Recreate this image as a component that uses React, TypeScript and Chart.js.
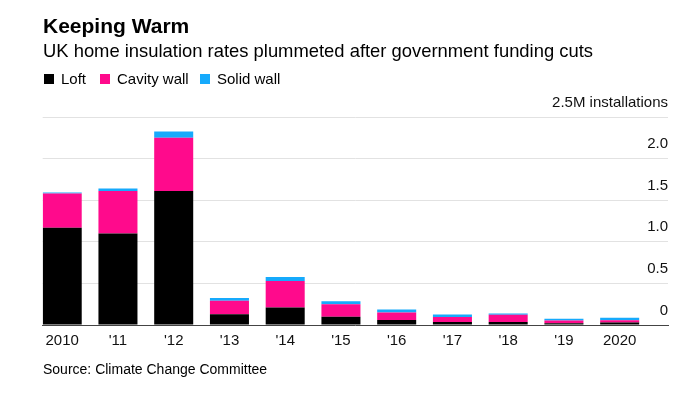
import React, { useEffect, useRef } from 'react';
import { Chart, registerables } from 'chart.js';

Chart.register(...registerables);

const years = ['2010', "'11", "'12", "'13", "'14", "'15", "'16", "'17", "'18", "'19", '2020'];
const loft = [1.17, 1.1, 1.61, 0.13, 0.21, 0.1, 0.06, 0.035, 0.035, 0.022, 0.03];
const cavity = [0.41, 0.51, 0.64, 0.16, 0.32, 0.15, 0.09, 0.06, 0.088, 0.032, 0.028];
const solid = [0.012, 0.032, 0.077, 0.036, 0.048, 0.036, 0.036, 0.032, 0.015, 0.02, 0.028];
const yTicks = [0, 0.5, 1, 1.5, 2, 2.5];
const yTickLabels = ['0', '0.5', '1.0', '1.5', '2.0', '2.5M installations'];

const seriesNames = ['Loft', 'Cavity wall', 'Solid wall'];
const seriesColors = ['#000000', '#ff0a8c', '#16aafc'];

const FONT = "'Liberation Sans', Arial, sans-serif";

export default function App() {
  const canvasRef = useRef<HTMLCanvasElement | null>(null);

  useEffect(() => {
    const canvas = canvasRef.current;
    if (!canvas) return;
    Chart.defaults.font.family = FONT;
    const seriesData = [loft, cavity, solid];
    const chart = new Chart(canvas, {
      type: 'bar',
      data: {
        datasets: seriesData.map((arr, k) => ({
          label: seriesNames[k],
          data: arr.map((v, i) => ({ x: i, y: v })),
          backgroundColor: seriesColors[k],
          borderWidth: 0,
          categoryPercentage: 0.7,
          barPercentage: 1.0,
        })),
      },
      options: {
        animation: false,
        responsive: false,
        events: [],
        layout: { padding: { top: 117, right: 32, bottom: 39, left: 42.7 } },
        plugins: {
          legend: { display: false },
          tooltip: { enabled: false },
          title: { display: false },
        },
        scales: {
          x: {
            type: 'linear',
            stacked: true,
            offset: false,
            min: -0.35,
            max: 10.867,
            bounds: 'data',
            afterBuildTicks: (scale: any) => {
              scale.ticks = years.map((_, i) => ({ value: i }));
            },
            grid: { display: false, drawTicks: false },
            border: { display: true, color: '#444444', width: 1 },
            ticks: {
              autoSkip: false,
              maxRotation: 0,
              minRotation: 0,
              padding: 7,
              color: '#111111',
              font: { size: 15, family: FONT },
              callback: (v: any) => years[Math.round(Number(v))] ?? '',
            },
          },
          y: {
            type: 'linear',
            position: 'right',
            stacked: true,
            min: 0,
            max: 2.5,
            afterBuildTicks: (scale: any) => {
              scale.ticks = yTicks.map((v) => ({ value: v }));
            },
            grid: { color: '#e2e2e2', lineWidth: 1, drawTicks: false },
            border: { display: false },
            ticks: {
              mirror: true,
              padding: 0,
              labelOffset: -14.5,
              color: '#111111',
              font: { size: 15, family: FONT },
              callback: (_v: any, i: number) => yTickLabels[i],
            },
          },
        },
      },
    });
    return () => chart.destroy();
  }, []);

  const text = (extra: React.CSSProperties): React.CSSProperties => ({
    position: 'absolute',
    margin: 0,
    whiteSpace: 'nowrap',
    fontFamily: FONT,
    color: '#000',
    ...extra,
  });

  return (
    <div style={{ position: 'absolute', left: 0, top: 0, width: 700, height: 396, background: '#fff', overflow: 'hidden' }}>
      <canvas ref={canvasRef} width={700} height={396} style={{ position: 'absolute', left: 0, top: 0, width: 700, height: 396 }} />
      <div style={text({ left: 43, top: 15.2, fontSize: 21, lineHeight: '21px', fontWeight: 700 })}>Keeping Warm</div>
      <div style={text({ left: 43, top: 42.4, fontSize: 18.4, lineHeight: '18.4px' })}>
        UK home insulation rates plummeted after government funding cuts
      </div>
      {seriesNames.map((name, k) => {
        const lefts = [44, 100, 200];
        return (
          <React.Fragment key={name}>
            <div style={{ position: 'absolute', left: lefts[k], top: 74, width: 10, height: 10, background: seriesColors[k] }} />
            <div style={text({ left: lefts[k] + 17, top: 71.3, fontSize: 15, lineHeight: '15px' })}>{name}</div>
          </React.Fragment>
        );
      })}
      <div style={text({ left: 43, top: 362.2, fontSize: 14, lineHeight: '14px' })}>Source: Climate Change Committee</div>
    </div>
  );
}
